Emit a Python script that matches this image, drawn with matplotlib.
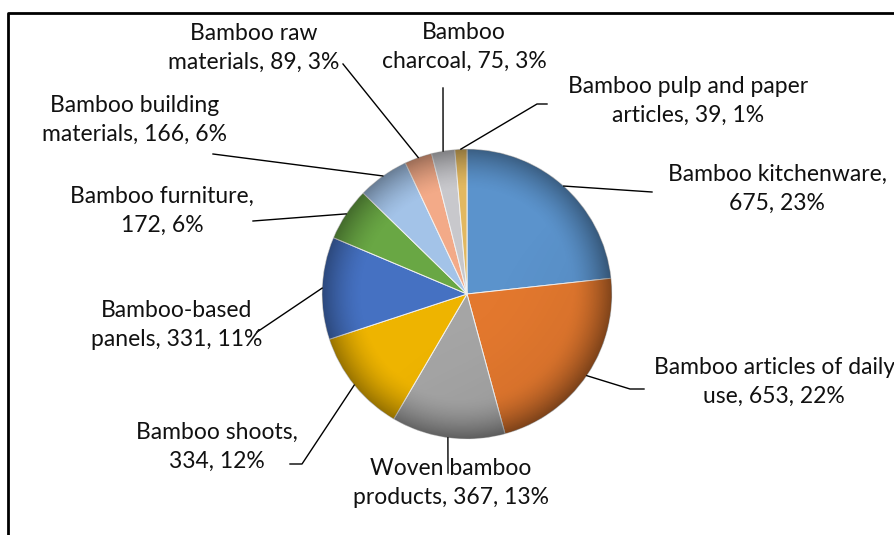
import numpy as np
import matplotlib
matplotlib.use('Agg')
from matplotlib import pyplot as plt
from matplotlib.patches import Circle

W, H = 894, 535

names = ['Bamboo kitchenware,\n', 'Bamboo articles of daily\nuse, ', 'Woven bamboo\nproducts, ',
         'Bamboo shoots,\n', 'Bamboo-based\npanels, ', 'Bamboo furniture,\n',
         'Bamboo building\nmaterials, ', 'Bamboo raw\nmaterials, ', 'Bamboo\ncharcoal, ',
         'Bamboo pulp and paper\narticles, ']
values = [675, 653, 367, 334, 331, 172, 166, 89, 75, 39]
percents = [23, 22, 13, 12, 11, 6, 6, 3, 3, 1]
colors = ['#5B93CC', '#E3782E', '#A5A5A5', '#EEB400', '#4571C2', '#69A744',
          '#A3C3E8', '#F3AA88', '#C8C8CC', '#E2B860']

# label layout in image pixels (x, y from top)
label_pos = [(777, 189), (774, 382), (451, 483), (217, 447), (177, 325),
             (162, 211), (135, 120), (254, 48), (464, 47), (688, 101)]
# leader line points after the rim point
leader_pts = [[(652, 192)], [(630, 389), (644, 389)], [(448, 473)], [(302, 464), (290, 464)],
              [(257, 332)], [(253, 221)], [(213, 154)], [(343, 64)], [(443, 88)],
              [(537, 104), (547, 104)]]

cx, cy, r = 467, H - 294, 145

plt.rcParams['font.family'] = ['Lato', 'DejaVu Sans']

fig = plt.figure(figsize=(W / 100, H / 100), dpi=100)
ax = fig.add_axes([0, 0, 1, 1])

wedges, _ = ax.pie(values, colors=colors, startangle=90, counterclock=False,
                   center=(cx, cy), radius=r, frame=True,
                   wedgeprops=dict(edgecolor='#f2f2f2', linewidth=0.7))
ax.set_xlim(0, W)
ax.set_ylim(0, H)
ax.axis('off')

# darker rim like the office bevel look
n = 400
yy, xx = np.mgrid[-1:1:n * 1j, -1:1:n * 1j]
rho = np.sqrt(xx ** 2 + yy ** 2)
shade = np.clip((rho - 0.72) / 0.28, 0, 1) ** 1.6 * 0.36
shade += np.clip(0.10 * (xx - yy) / 1.4, 0, None) * np.clip(rho, 0, 1)
overlay = np.zeros((n, n, 4))
overlay[..., 3] = np.clip(shade, 0, 0.5)
im = ax.imshow(overlay, extent=[cx - r, cx + r, cy - r, cy + r], origin='lower', zorder=3)
im.set_clip_path(Circle((cx, cy), r, transform=ax.transData))

for w, name, v, pct, pos, pts in zip(wedges, names, values, percents, label_pos, leader_pts):
    mid = np.deg2rad((w.theta1 + w.theta2) / 2)
    xs = [cx + r * np.cos(mid)] + [p[0] for p in pts]
    ys = [cy + r * np.sin(mid)] + [H - p[1] for p in pts]
    ax.plot(xs, ys, color='black', lw=1.0, zorder=4)
    ax.text(pos[0], H - pos[1], f'{name}{v}, {pct}%', ha='center', va='center',
            fontsize=16.5, linespacing=1.5, color='#111111', zorder=5)

# chart frame (left and top edges visible)
ax.plot([8, 8, W + 5], [-5, H - 13, H - 13], color='black', lw=2, clip_on=False)

fig.savefig('out.png', dpi=100)
